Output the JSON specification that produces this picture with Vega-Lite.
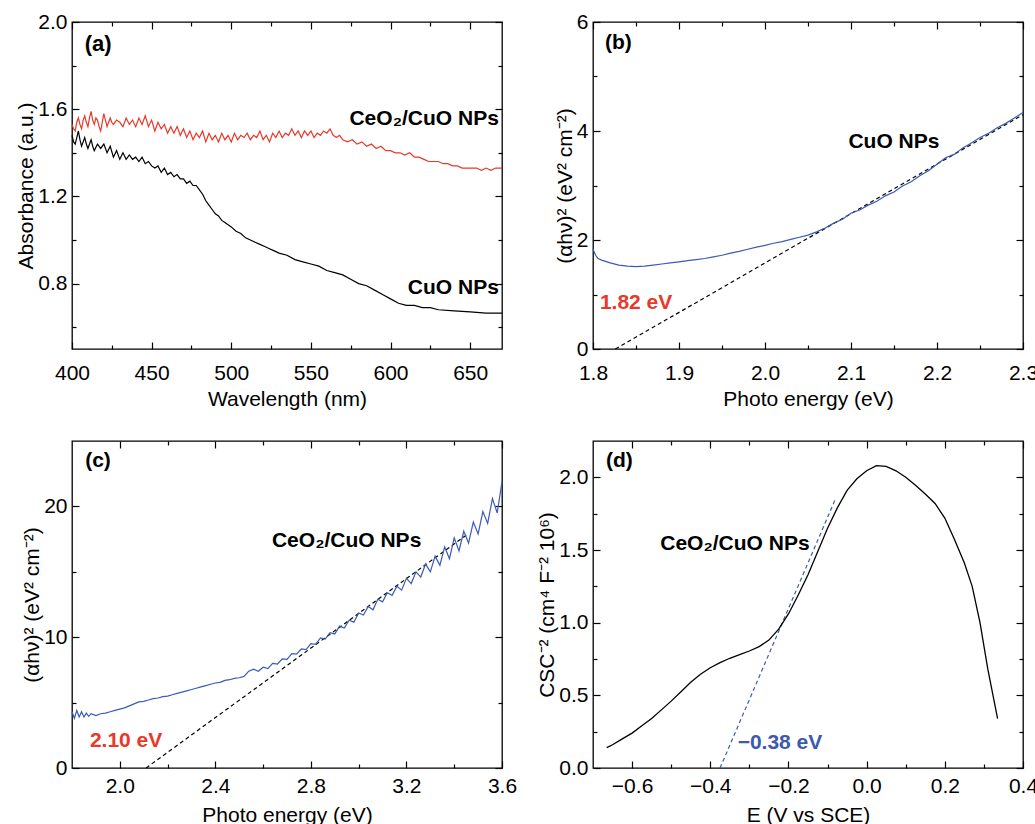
{
"$schema":"https://vega.github.io/schema/vega-lite/v6.json",
"padding":{"left":15,"top":10,"right":0,"bottom":0},
"bounds":"flush",
"columns":2,
"spacing":{"row":92,"column":91},
"config":{
 "view":{"stroke":"black","strokeWidth":1.3},
 "axis":{"domain":false,"grid":false,"labelFont":"Liberation Sans","labelFontSize":21,"labelColor":"black","titleFont":"Liberation Sans","titleFontSize":21,"titleFontWeight":"normal","titleColor":"black","tickColor":"black","tickWidth":1.2,"labelFlush":false,"labelOverlap":false,"labelBound":false},
 "text":{"font":"Liberation Sans","fontWeight":"bold","fontSize":21,"align":"left","baseline":"middle"}
},
"datasets":{
 "a_red":[{"x":400,"y":1.53},{"x":401,"y":1.51},{"x":402,"y":1.50},{"x":403,"y":1.54},{"x":404,"y":1.56},{"x":405,"y":1.53},{"x":406,"y":1.51},{"x":407,"y":1.55},{"x":408,"y":1.57},{"x":409,"y":1.54},{"x":410,"y":1.52},{"x":411,"y":1.56},{"x":412,"y":1.59},{"x":413,"y":1.55},{"x":414,"y":1.53},{"x":415,"y":1.56},{"x":416,"y":1.55},{"x":417,"y":1.52},{"x":418,"y":1.50},{"x":419,"y":1.54},{"x":420,"y":1.58},{"x":421,"y":1.55},{"x":422,"y":1.52},{"x":423,"y":1.54},{"x":424,"y":1.56},{"x":425,"y":1.54},{"x":426,"y":1.53},{"x":428,"y":1.55},{"x":430,"y":1.54},{"x":432,"y":1.52},{"x":434,"y":1.56},{"x":436,"y":1.53},{"x":438,"y":1.55},{"x":440,"y":1.52},{"x":442,"y":1.56},{"x":444,"y":1.53},{"x":446,"y":1.57},{"x":448,"y":1.52},{"x":450,"y":1.55},{"x":452,"y":1.50},{"x":454,"y":1.54},{"x":456,"y":1.51},{"x":458,"y":1.53},{"x":460,"y":1.49},{"x":462,"y":1.52},{"x":464,"y":1.49},{"x":466,"y":1.52},{"x":468,"y":1.48},{"x":470,"y":1.51},{"x":472,"y":1.47},{"x":474,"y":1.50},{"x":476,"y":1.46},{"x":478,"y":1.49},{"x":480,"y":1.47},{"x":482,"y":1.50},{"x":484,"y":1.45},{"x":486,"y":1.49},{"x":488,"y":1.46},{"x":490,"y":1.48},{"x":492,"y":1.45},{"x":494,"y":1.49},{"x":496,"y":1.46},{"x":498,"y":1.48},{"x":500,"y":1.45},{"x":502,"y":1.49},{"x":504,"y":1.46},{"x":506,"y":1.48},{"x":508,"y":1.47},{"x":510,"y":1.49},{"x":512,"y":1.46},{"x":514,"y":1.48},{"x":516,"y":1.47},{"x":518,"y":1.50},{"x":520,"y":1.46},{"x":522,"y":1.48},{"x":524,"y":1.45},{"x":526,"y":1.49},{"x":528,"y":1.47},{"x":530,"y":1.50},{"x":532,"y":1.47},{"x":534,"y":1.49},{"x":536,"y":1.48},{"x":538,"y":1.51},{"x":540,"y":1.48},{"x":542,"y":1.50},{"x":544,"y":1.47},{"x":546,"y":1.50},{"x":548,"y":1.48},{"x":550,"y":1.50},{"x":552,"y":1.47},{"x":554,"y":1.49},{"x":556,"y":1.48},{"x":558,"y":1.50},{"x":560,"y":1.49},{"x":562,"y":1.51},{"x":564,"y":1.48},{"x":566,"y":1.47},{"x":568,"y":1.48},{"x":570,"y":1.46},{"x":573,"y":1.45},{"x":576,"y":1.46},{"x":579,"y":1.44},{"x":582,"y":1.45},{"x":585,"y":1.43},{"x":588,"y":1.44},{"x":591,"y":1.42},{"x":594,"y":1.43},{"x":597,"y":1.41},{"x":600,"y":1.41},{"x":603,"y":1.40},{"x":606,"y":1.40},{"x":609,"y":1.39},{"x":612,"y":1.40},{"x":615,"y":1.38},{"x":618,"y":1.38},{"x":621,"y":1.37},{"x":624,"y":1.36},{"x":627,"y":1.36},{"x":630,"y":1.36},{"x":633,"y":1.35},{"x":636,"y":1.35},{"x":639,"y":1.34},{"x":642,"y":1.34},{"x":645,"y":1.33},{"x":648,"y":1.33},{"x":651,"y":1.33},{"x":654,"y":1.33},{"x":657,"y":1.32},{"x":660,"y":1.33},{"x":663,"y":1.32},{"x":666,"y":1.33},{"x":670,"y":1.33}],
 "a_black":[{"x":400,"y":1.48},{"x":401,"y":1.45},{"x":402,"y":1.44},{"x":403,"y":1.47},{"x":404,"y":1.50},{"x":405,"y":1.46},{"x":406,"y":1.43},{"x":407,"y":1.45},{"x":408,"y":1.47},{"x":409,"y":1.44},{"x":410,"y":1.42},{"x":411,"y":1.44},{"x":412,"y":1.46},{"x":413,"y":1.43},{"x":414,"y":1.41},{"x":416,"y":1.44},{"x":418,"y":1.42},{"x":420,"y":1.44},{"x":422,"y":1.40},{"x":424,"y":1.43},{"x":426,"y":1.38},{"x":428,"y":1.41},{"x":430,"y":1.37},{"x":432,"y":1.40},{"x":434,"y":1.37},{"x":436,"y":1.39},{"x":438,"y":1.37},{"x":440,"y":1.38},{"x":442,"y":1.36},{"x":444,"y":1.38},{"x":446,"y":1.35},{"x":448,"y":1.36},{"x":450,"y":1.34},{"x":452,"y":1.33},{"x":454,"y":1.34},{"x":456,"y":1.31},{"x":458,"y":1.33},{"x":460,"y":1.30},{"x":462,"y":1.31},{"x":464,"y":1.29},{"x":466,"y":1.30},{"x":468,"y":1.28},{"x":470,"y":1.28},{"x":472,"y":1.26},{"x":474,"y":1.27},{"x":476,"y":1.25},{"x":478,"y":1.25},{"x":480,"y":1.23},{"x":482,"y":1.21},{"x":484,"y":1.18},{"x":486,"y":1.16},{"x":488,"y":1.14},{"x":490,"y":1.12},{"x":492,"y":1.11},{"x":494,"y":1.09},{"x":496,"y":1.08},{"x":498,"y":1.07},{"x":500,"y":1.06},{"x":503,"y":1.04},{"x":506,"y":1.03},{"x":509,"y":1.01},{"x":512,"y":1.00},{"x":515,"y":0.99},{"x":518,"y":0.98},{"x":521,"y":0.97},{"x":524,"y":0.96},{"x":527,"y":0.95},{"x":530,"y":0.94},{"x":535,"y":0.93},{"x":540,"y":0.91},{"x":545,"y":0.90},{"x":550,"y":0.89},{"x":555,"y":0.88},{"x":560,"y":0.86},{"x":565,"y":0.85},{"x":570,"y":0.84},{"x":575,"y":0.82},{"x":580,"y":0.80},{"x":585,"y":0.79},{"x":590,"y":0.77},{"x":595,"y":0.75},{"x":600,"y":0.73},{"x":605,"y":0.71},{"x":610,"y":0.70},{"x":615,"y":0.70},{"x":620,"y":0.69},{"x":625,"y":0.69},{"x":630,"y":0.68},{"x":640,"y":0.675},{"x":650,"y":0.67},{"x":660,"y":0.665},{"x":670,"y":0.665}],
 "a_labels":[{"x":668,"y":1.556,"label":"CeO₂/CuO NPs"},{"x":668,"y":0.78,"label":"CuO NPs"}],
 "a_tag":[{"x":408,"y":1.9,"label":"(a)"}],
 "b_curve":[{"x":1.800,"y":1.83},{"x":1.803,"y":1.72},{"x":1.806,"y":1.66},{"x":1.81,"y":1.63},{"x":1.82,"y":1.58},{"x":1.83,"y":1.54},{"x":1.84,"y":1.52},{"x":1.85,"y":1.51},{"x":1.86,"y":1.52},{"x":1.87,"y":1.54},{"x":1.88,"y":1.56},{"x":1.89,"y":1.58},{"x":1.90,"y":1.60},{"x":1.91,"y":1.62},{"x":1.92,"y":1.64},{"x":1.93,"y":1.66},{"x":1.94,"y":1.69},{"x":1.95,"y":1.72},{"x":1.96,"y":1.76},{"x":1.97,"y":1.79},{"x":1.98,"y":1.83},{"x":1.99,"y":1.87},{"x":2.00,"y":1.90},{"x":2.01,"y":1.94},{"x":2.02,"y":1.97},{"x":2.03,"y":2.01},{"x":2.04,"y":2.05},{"x":2.05,"y":2.09},{"x":2.06,"y":2.15},{"x":2.07,"y":2.22},{"x":2.08,"y":2.31},{"x":2.09,"y":2.38},{"x":2.10,"y":2.49},{"x":2.11,"y":2.55},{"x":2.12,"y":2.64},{"x":2.13,"y":2.71},{"x":2.14,"y":2.81},{"x":2.15,"y":2.88},{"x":2.16,"y":2.99},{"x":2.17,"y":3.07},{"x":2.18,"y":3.18},{"x":2.19,"y":3.27},{"x":2.20,"y":3.39},{"x":2.21,"y":3.51},{"x":2.22,"y":3.57},{"x":2.23,"y":3.69},{"x":2.24,"y":3.78},{"x":2.25,"y":3.88},{"x":2.26,"y":3.96},{"x":2.27,"y":4.06},{"x":2.28,"y":4.14},{"x":2.29,"y":4.24},{"x":2.30,"y":4.34}],
 "b_fit":[{"x":1.826,"y":0},{"x":2.3,"y":4.3}],
 "b_labels":[{"x":1.814,"y":5.61,"label":"(b)"},{"x":2.097,"y":3.79,"label":"CuO NPs"}],
 "b_gap":[{"x":1.808,"y":0.84,"label":"1.82 eV"}],
 "c_curve":[{"x":1.80,"y":4.3},{"x":1.81,"y":3.8},{"x":1.82,"y":4.4},{"x":1.83,"y":3.9},{"x":1.84,"y":4.3},{"x":1.85,"y":3.9},{"x":1.86,"y":4.2},{"x":1.87,"y":3.95},{"x":1.88,"y":4.15},{"x":1.90,"y":4.0},{"x":1.92,"y":4.15},{"x":1.94,"y":4.2},{"x":1.96,"y":4.3},{"x":1.98,"y":4.4},{"x":2.00,"y":4.5},{"x":2.02,"y":4.6},{"x":2.04,"y":4.75},{"x":2.06,"y":4.9},{"x":2.08,"y":5.05},{"x":2.10,"y":5.1},{"x":2.12,"y":5.2},{"x":2.14,"y":5.3},{"x":2.16,"y":5.35},{"x":2.18,"y":5.45},{"x":2.20,"y":5.5},{"x":2.22,"y":5.6},{"x":2.24,"y":5.7},{"x":2.26,"y":5.8},{"x":2.28,"y":5.9},{"x":2.30,"y":6.0},{"x":2.32,"y":6.1},{"x":2.34,"y":6.2},{"x":2.36,"y":6.3},{"x":2.38,"y":6.4},{"x":2.40,"y":6.5},{"x":2.42,"y":6.55},{"x":2.44,"y":6.7},{"x":2.46,"y":6.75},{"x":2.48,"y":6.85},{"x":2.50,"y":6.9},{"x":2.52,"y":7.0},{"x":2.54,"y":7.4},{"x":2.56,"y":7.55},{"x":2.58,"y":7.4},{"x":2.60,"y":7.7},{"x":2.62,"y":7.6},{"x":2.64,"y":8.0},{"x":2.66,"y":7.95},{"x":2.68,"y":8.35},{"x":2.70,"y":8.3},{"x":2.72,"y":8.75},{"x":2.74,"y":8.7},{"x":2.76,"y":9.1},{"x":2.78,"y":9.05},{"x":2.80,"y":9.5},{"x":2.82,"y":9.45},{"x":2.84,"y":9.95},{"x":2.86,"y":9.85},{"x":2.88,"y":10.35},{"x":2.90,"y":10.25},{"x":2.92,"y":10.85},{"x":2.94,"y":10.7},{"x":2.96,"y":11.3},{"x":2.98,"y":11.15},{"x":3.00,"y":11.85},{"x":3.02,"y":11.7},{"x":3.04,"y":12.35},{"x":3.06,"y":12.1},{"x":3.08,"y":12.9},{"x":3.10,"y":12.7},{"x":3.12,"y":13.4},{"x":3.14,"y":13.2},{"x":3.16,"y":13.9},{"x":3.18,"y":13.6},{"x":3.20,"y":14.5},{"x":3.22,"y":14.1},{"x":3.24,"y":15.0},{"x":3.26,"y":14.6},{"x":3.28,"y":15.6},{"x":3.30,"y":15.0},{"x":3.32,"y":16.2},{"x":3.34,"y":15.5},{"x":3.36,"y":16.9},{"x":3.38,"y":16.0},{"x":3.40,"y":17.6},{"x":3.42,"y":16.6},{"x":3.44,"y":18.1},{"x":3.46,"y":17.2},{"x":3.48,"y":18.8},{"x":3.50,"y":17.9},{"x":3.52,"y":19.6},{"x":3.54,"y":18.7},{"x":3.56,"y":20.6},{"x":3.58,"y":19.5},{"x":3.60,"y":21.9}],
 "c_fit":[{"x":2.11,"y":0},{"x":3.45,"y":17.8}],
 "c_labels":[{"x":1.855,"y":23.5,"label":"(c)"},{"x":2.637,"y":17.37,"label":"CeO₂/CuO NPs"}],
 "c_gap":[{"x":1.875,"y":2.1,"label":"2.10 eV"}],
 "d_curve":[{"x":-0.665,"y":0.14},{"x":-0.65,"y":0.16},{"x":-0.625,"y":0.2},{"x":-0.6,"y":0.24},{"x":-0.575,"y":0.29},{"x":-0.55,"y":0.34},{"x":-0.525,"y":0.4},{"x":-0.5,"y":0.46},{"x":-0.475,"y":0.525},{"x":-0.45,"y":0.59},{"x":-0.425,"y":0.645},{"x":-0.4,"y":0.69},{"x":-0.375,"y":0.725},{"x":-0.35,"y":0.755},{"x":-0.325,"y":0.78},{"x":-0.3,"y":0.805},{"x":-0.275,"y":0.835},{"x":-0.25,"y":0.88},{"x":-0.225,"y":0.955},{"x":-0.2,"y":1.06},{"x":-0.175,"y":1.19},{"x":-0.15,"y":1.33},{"x":-0.125,"y":1.49},{"x":-0.1,"y":1.65},{"x":-0.075,"y":1.79},{"x":-0.05,"y":1.91},{"x":-0.025,"y":1.99},{"x":0,"y":2.045},{"x":0.025,"y":2.08},{"x":0.05,"y":2.075},{"x":0.075,"y":2.045},{"x":0.1,"y":2.0},{"x":0.125,"y":1.945},{"x":0.15,"y":1.885},{"x":0.175,"y":1.82},{"x":0.2,"y":1.72},{"x":0.225,"y":1.57},{"x":0.25,"y":1.41},{"x":0.27,"y":1.25},{"x":0.29,"y":1.0},{"x":0.31,"y":0.68},{"x":0.335,"y":0.34}],
 "d_fit":[{"x":-0.375,"y":0},{"x":-0.08,"y":1.85}],
 "d_labels":[{"x":-0.667,"y":2.11,"label":"(d)"},{"x":-0.528,"y":1.54,"label":"CeO₂/CuO NPs"}],
 "d_gap":[{"x":-0.33,"y":0.17,"label":"−0.38 eV"}]
},
"concat":[
 {"width":430,"height":327,"resolve":{"axis":{"x":"independent","y":"independent"}},
  "layer":[
   {"data":{"name":"a_red"},"mark":{"type":"line","color":"#e8392a","strokeWidth":1.2},
    "encoding":{"x":{"field":"x","type":"quantitative","scale":{"domain":[400,670],"nice":false,"zero":false},"axis":{"orient":"bottom","values":[400,450,500,550,600,650],"tickSize":-7,"labelPadding":20,"title":"Wavelength (nm)","titlePadding":5}},
     "y":{"field":"y","type":"quantitative","scale":{"domain":[0.5,2.0],"nice":false,"zero":false},"axis":{"orient":"left","values":[0.8,1.2,1.6,2.0],"format":".1f","tickSize":-7,"labelPadding":12,"title":"Absorbance (a.u.)","titlePadding":1}}}},
   {"data":{"name":"a_black"},"mark":{"type":"line","color":"black","strokeWidth":1.2},
    "encoding":{"x":{"field":"x","type":"quantitative","scale":{"domain":[400,670],"nice":false,"zero":false},"axis":{"orient":"bottom","values":[425,475,525,575,625],"tickSize":-4,"labels":false,"title":null}},
     "y":{"field":"y","type":"quantitative","scale":{"domain":[0.5,2.0],"nice":false,"zero":false},"axis":{"orient":"left","values":[0.6,1.0,1.4,1.8],"tickSize":-4,"labels":false,"title":null}}}},
   {"data":{"name":"a_labels"},"mark":{"type":"text","align":"right","color":"black"},
    "encoding":{"x":{"field":"x","type":"quantitative","scale":{"domain":[400,670],"nice":false,"zero":false},"axis":{"orient":"top","values":[400,450,500,550,600,650],"tickSize":-7,"labels":false,"title":null}},
     "y":{"field":"y","type":"quantitative","scale":{"domain":[0.5,2.0],"nice":false,"zero":false},"axis":{"orient":"right","values":[0.8,1.2,1.6,2.0],"tickSize":-7,"labels":false,"title":null}},
     "text":{"field":"label"}}},
   {"data":{"name":"a_tag"},"mark":{"type":"text","fontSize":22,"color":"black"},
    "encoding":{"x":{"field":"x","type":"quantitative","scale":{"domain":[400,670],"nice":false,"zero":false},"axis":{"orient":"top","values":[425,475,525,575,625],"tickSize":-4,"labels":false,"title":null}},
     "y":{"field":"y","type":"quantitative","scale":{"domain":[0.5,2.0],"nice":false,"zero":false},"axis":{"orient":"right","values":[0.6,1.0,1.4,1.8],"tickSize":-4,"labels":false,"title":null}},
     "text":{"field":"label"}}}
  ]},
 {"width":430,"height":327,"resolve":{"axis":{"x":"independent","y":"independent"}},
  "layer":[
   {"data":{"name":"b_fit"},"mark":{"type":"line","color":"black","strokeWidth":1.2,"strokeDash":[4,3]},
    "encoding":{"x":{"field":"x","type":"quantitative","scale":{"domain":[1.8,2.3],"nice":false,"zero":false},"axis":{"orient":"bottom","values":[1.8,1.9,2.0,2.1,2.2,2.3],"format":".1f","tickSize":-7,"labelPadding":20,"title":"Photo energy (eV)","titlePadding":5}},
     "y":{"field":"y","type":"quantitative","scale":{"domain":[0,6],"nice":false,"zero":false},"axis":{"orient":"left","values":[0,2,4,6],"format":"d","tickSize":-7,"labelPadding":12,"title":"(αhν)² (eV² cm⁻²)","titlePadding":1}}}},
   {"data":{"name":"b_curve"},"mark":{"type":"line","color":"#3b5bb5","strokeWidth":1.2},
    "encoding":{"x":{"field":"x","type":"quantitative","scale":{"domain":[1.8,2.3],"nice":false,"zero":false},"axis":{"orient":"bottom","values":[1.85,1.95,2.05,2.15,2.25],"tickSize":-4,"labels":false,"title":null}},
     "y":{"field":"y","type":"quantitative","scale":{"domain":[0,6],"nice":false,"zero":false},"axis":{"orient":"left","values":[1,3,5],"tickSize":-4,"labels":false,"title":null}}}},
   {"data":{"name":"b_labels"},"mark":{"type":"text","color":"black"},
    "encoding":{"x":{"field":"x","type":"quantitative","scale":{"domain":[1.8,2.3],"nice":false,"zero":false},"axis":{"orient":"top","values":[1.8,1.9,2.0,2.1,2.2,2.3],"tickSize":-7,"labels":false,"title":null}},
     "y":{"field":"y","type":"quantitative","scale":{"domain":[0,6],"nice":false,"zero":false},"axis":{"orient":"right","values":[0,2,4,6],"tickSize":-7,"labels":false,"title":null}},
     "text":{"field":"label"}}},
   {"data":{"name":"b_gap"},"mark":{"type":"text","color":"#e8392a"},
    "encoding":{"x":{"field":"x","type":"quantitative","scale":{"domain":[1.8,2.3],"nice":false,"zero":false},"axis":{"orient":"top","values":[1.85,1.95,2.05,2.15,2.25],"tickSize":-4,"labels":false,"title":null}},
     "y":{"field":"y","type":"quantitative","scale":{"domain":[0,6],"nice":false,"zero":false},"axis":{"orient":"right","values":[1,3,5],"tickSize":-4,"labels":false,"title":null}},
     "text":{"field":"label"}}}
  ]},
 {"width":430,"height":327,"resolve":{"axis":{"x":"independent","y":"independent"}},
  "layer":[
   {"data":{"name":"c_fit"},"mark":{"type":"line","color":"black","strokeWidth":1.2,"strokeDash":[4,3]},
    "encoding":{"x":{"field":"x","type":"quantitative","scale":{"domain":[1.8,3.6],"nice":false,"zero":false},"axis":{"orient":"bottom","values":[2.0,2.4,2.8,3.2,3.6],"format":".1f","tickSize":-7,"labelPadding":14,"title":"Photo energy (eV)","titlePadding":8}},
     "y":{"field":"y","type":"quantitative","scale":{"domain":[0,25],"nice":false,"zero":false},"axis":{"orient":"left","values":[0,10,20],"format":"d","tickSize":-7,"labelPadding":12,"title":"(αhν)² (eV² cm⁻²)","titlePadding":1}}}},
   {"data":{"name":"c_curve"},"mark":{"type":"line","color":"#3b5bb5","strokeWidth":1.2},
    "encoding":{"x":{"field":"x","type":"quantitative","scale":{"domain":[1.8,3.6],"nice":false,"zero":false},"axis":{"orient":"bottom","values":[2.2,2.6,3.0,3.4],"tickSize":-4,"labels":false,"title":null}},
     "y":{"field":"y","type":"quantitative","scale":{"domain":[0,25],"nice":false,"zero":false},"axis":{"orient":"left","values":[5,15],"tickSize":-4,"labels":false,"title":null}}}},
   {"data":{"name":"c_labels"},"mark":{"type":"text","color":"black"},
    "encoding":{"x":{"field":"x","type":"quantitative","scale":{"domain":[1.8,3.6],"nice":false,"zero":false},"axis":{"orient":"top","values":[2.0,2.4,2.8,3.2,3.6],"tickSize":-7,"labels":false,"title":null}},
     "y":{"field":"y","type":"quantitative","scale":{"domain":[0,25],"nice":false,"zero":false},"axis":{"orient":"right","values":[0,10,20],"tickSize":-7,"labels":false,"title":null}},
     "text":{"field":"label"}}},
   {"data":{"name":"c_gap"},"mark":{"type":"text","color":"#e8392a"},
    "encoding":{"x":{"field":"x","type":"quantitative","scale":{"domain":[1.8,3.6],"nice":false,"zero":false},"axis":{"orient":"top","values":[2.2,2.6,3.0,3.4],"tickSize":-4,"labels":false,"title":null}},
     "y":{"field":"y","type":"quantitative","scale":{"domain":[0,25],"nice":false,"zero":false},"axis":{"orient":"right","values":[5,15],"tickSize":-4,"labels":false,"title":null}},
     "text":{"field":"label"}}}
  ]},
 {"width":430,"height":327,"resolve":{"axis":{"x":"independent","y":"independent"}},
  "layer":[
   {"data":{"name":"d_fit"},"mark":{"type":"line","color":"#3b5bb5","strokeWidth":1.2,"strokeDash":[4,3]},
    "encoding":{"x":{"field":"x","type":"quantitative","scale":{"domain":[-0.7,0.4],"nice":false,"zero":false},"axis":{"orient":"bottom","values":[-0.6,-0.4,-0.2,0,0.2,0.4],"format":".1f","tickSize":-7,"labelPadding":14,"title":"E (V vs SCE)","titlePadding":8}},
     "y":{"field":"y","type":"quantitative","scale":{"domain":[0,2.25],"nice":false,"zero":false},"axis":{"orient":"left","values":[0,0.5,1.0,1.5,2.0],"format":".1f","tickSize":-7,"labelPadding":12,"title":"CSC⁻² (cm⁴ F⁻² 10⁶)","titlePadding":1}}}},
   {"data":{"name":"d_curve"},"mark":{"type":"line","color":"black","strokeWidth":1.3},
    "encoding":{"x":{"field":"x","type":"quantitative","scale":{"domain":[-0.7,0.4],"nice":false,"zero":false},"axis":{"orient":"bottom","values":[-0.5,-0.3,-0.1,0.1,0.3],"tickSize":-4,"labels":false,"title":null}},
     "y":{"field":"y","type":"quantitative","scale":{"domain":[0,2.25],"nice":false,"zero":false},"axis":{"orient":"left","values":[0.25,0.75,1.25,1.75],"tickSize":-4,"labels":false,"title":null}}}},
   {"data":{"name":"d_labels"},"mark":{"type":"text","color":"black"},
    "encoding":{"x":{"field":"x","type":"quantitative","scale":{"domain":[-0.7,0.4],"nice":false,"zero":false},"axis":{"orient":"top","values":[-0.6,-0.4,-0.2,0,0.2,0.4],"tickSize":-7,"labels":false,"title":null}},
     "y":{"field":"y","type":"quantitative","scale":{"domain":[0,2.25],"nice":false,"zero":false},"axis":{"orient":"right","values":[0,0.5,1.0,1.5,2.0],"tickSize":-7,"labels":false,"title":null}},
     "text":{"field":"label"}}},
   {"data":{"name":"d_gap"},"mark":{"type":"text","color":"#3d5aad"},
    "encoding":{"x":{"field":"x","type":"quantitative","scale":{"domain":[-0.7,0.4],"nice":false,"zero":false},"axis":{"orient":"top","values":[-0.5,-0.3,-0.1,0.1,0.3],"tickSize":-4,"labels":false,"title":null}},
     "y":{"field":"y","type":"quantitative","scale":{"domain":[0,2.25],"nice":false,"zero":false},"axis":{"orient":"right","values":[0.25,0.75,1.25,1.75],"tickSize":-4,"labels":false,"title":null}},
     "text":{"field":"label"}}}
  ]}
]
}
